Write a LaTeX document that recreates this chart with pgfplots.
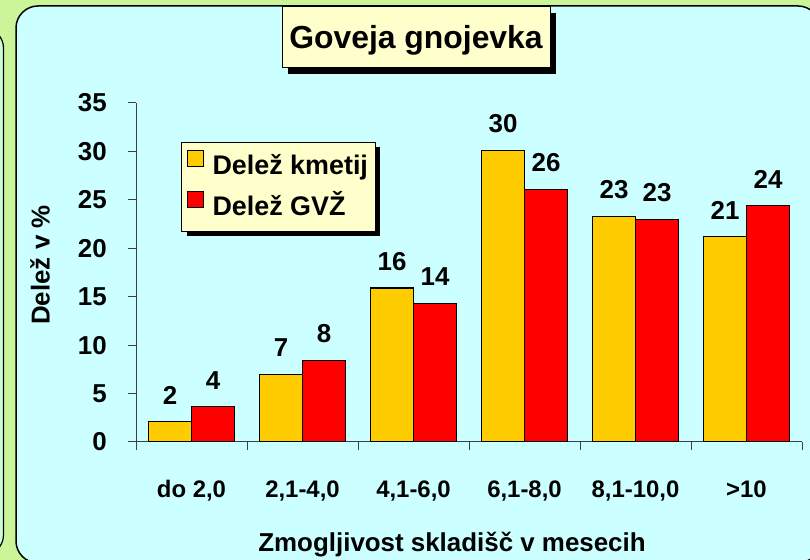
\documentclass[border=0pt]{standalone}
\usepackage{pgfplots}
\pgfplotsset{compat=1.18}
\usepackage{fontspec}
\setmainfont{Liberation Sans}
\usetikzlibrary{shadows}
\definecolor{bggreen}{HTML}{CCF59A}
\definecolor{panelcyan}{HTML}{CCFFFF}
\definecolor{boxyellow}{HTML}{FFFFCC}
\definecolor{baryellow}{HTML}{FFCC00}
\definecolor{barred}{HTML}{FF0000}
\newcommand{\fs}[1]{\fontsize{#1}{#1}\selectfont\bfseries}
\makeatletter
\tikzset{no preactions/.code={\let\tikz@preactions=\pgfutil@empty}}
\makeatother

\begin{document}
\begin{tikzpicture}[x=1bp,y=1bp]
\useasboundingbox (0,0) rectangle (810,560);
\begin{scope}
\clip (0,0) rectangle (810,560);
\fill[bggreen] (0,0) rectangle (810,560);
\draw[line width=1.2bp, fill=panelcyan!60!bggreen, rounded corners=20bp] (-60,532) rectangle (3.5,5);
\draw[line width=1.5bp, fill=panelcyan, rounded corners=22bp] (16,554) rectangle (820,-3);
\end{scope}
\begin{axis}[
  at={(136bp,118bp)}, anchor=south west,
  scale only axis, width=666bp, height=339bp,
  xmin=-0.5, xmax=5.5, ymin=0, ymax=35,
  axis x line=bottom, axis y line=left,
  axis line style={black!75, line width=1bp, -},
  ybar=0pt, bar width=43bp,
  xtick={0,...,5},
  xticklabels={{do 2,0},{2,1-4,0},{4,1-6,0},{6,1-8,0},{8,1-10,0},{>10}},
  major x tick style={draw=none},
  minor xtick={-0.5,0.5,...,5.5},
  minor tick length=8bp, major tick length=8bp,
  tick align=outside,
  tick style={black!75, line width=1bp},
  ytick={0,5,...,35},
  yticklabel style={font=\fs{26}, anchor=east, inner sep=0pt, xshift=-21bp},
  xticklabel style={font=\fs{24}, anchor=base, yshift=-48bp},
  /pgf/number format/assume math mode=true,
  xlabel={Zmogljivost skladišč v mesecih},
  xlabel style={font=\fs{26}, at={(axis description cs:0.4745,-0.3245)}, anchor=base},
  ylabel={Delež v \%},
  ylabel style={font=\fs{26}, at={(axis description cs:-0.1441,0.522)}, anchor=center},
  point meta=explicit symbolic,
  nodes near coords={\pgfplotspointmeta},
  nodes near coords style={font=\fs{26}, anchor=south, inner sep=0pt, yshift=17bp},
  legend cell align=left,
  legend style={at={(axis description cs:0.0676,0.885)}, anchor=north west,
    fill=boxyellow, draw=black, line width=1bp, font=\fs{27},
    inner xsep=5bp, inner ysep=7.5bp, row sep=8bp, column sep=7bp,
    nodes={inner sep=2bp, text height=19bp, text depth=6bp},
    drop shadow={shadow xshift=5bp, shadow yshift=-5bp, fill=black, opacity=1}},
  legend image code/.code={\draw[#1, no preactions, line width=1bp] (1bp,2bp) rectangle (17bp,18bp);},
]
\addplot[fill=baryellow, draw=black, line width=1.2bp] coordinates {
  (0,2.1) [2] (1,7.0) [7] (2,15.9) [16] (3,30.1) [30] (4,23.3) [23] (5,21.2) [21]};
\addplot[fill=barred, draw=black, line width=1.2bp] coordinates {
  (0,3.65) [4] (1,8.4) [8] (2,14.3) [14] (3,26.1) [26] (4,23.0) [23] (5,24.4) [24]};
\legend{Delež kmetij, Delež GVŽ}
\end{axis}
\node[fill=boxyellow, draw=black, line width=1bp,
  drop shadow={shadow xshift=6bp, shadow yshift=-6bp, fill=black, opacity=1},
  minimum width=268bp, minimum height=61bp, text height=23bp, text depth=0bp,
  font=\fs{32}] at (416,522.5) {Goveja gnojevka};
\end{tikzpicture}
\end{document}
